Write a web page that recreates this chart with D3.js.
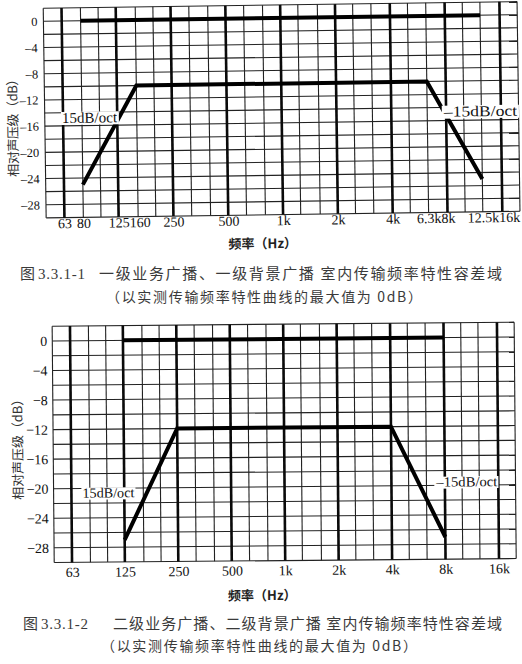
<!DOCTYPE html>
<html>
<head>
<meta charset="utf-8">
<script src="https://cdn.jsdelivr.net/npm/d3@7"></script>
<style>
  html, body { margin: 0; padding: 0; background: #fff; }
  svg { display: block; }
</style>
</head>
<body>
<svg id="fig" width="522" height="664"></svg>
<script>
// ---- grid definition ----
// one-third-octave band centres (Hz) used for the thin vertical rules
const bandFreqs = [50, 63, 80, 100, 125, 160, 200, 250, 315, 400, 500, 630, 800,
  1000, 1250, 1600, 2000, 2500, 3150, 4000, 5000, 6300, 8000, 10000, 12500, 16000, 20000];
// octave centres drawn as heavy rules
const octaveFreqs = [63, 125, 250, 500, 1000, 2000, 4000, 8000, 16000];
// horizontal rules every 2 dB
const dbGrid = [2, 0, -2, -4, -6, -8, -10, -12, -14, -16, -18, -20, -22, -24, -26, -28, -30];
const dbTicks = [0, -4, -8, -12, -16, -20, -24, -28];

// ---- Figure 3.3.1-1 ----
const freqTicks1 = [63, 80, 125, 160, 250, 500, 1000, 2000, 4000, 6300, 8000, 12500, 16000];
const freqLabels1 = ["63", "80", "125", "160", "250", "500", "1k", "2k", "4k", "6.3k", "8k", "12.5k", "16k"];
const upperFreq1 = [80, 12500];
const upperDb1 = [0, 0];
const lowerFreq1 = [80, 160, 6300, 12500];
const lowerDb1 = [-25, -10, -10, -25];
const slopeText1 = ["15dB/oct", "–15dB/oct"];
const caption1 = ["图", "3.3.1-1", "一级业务广播、一级背景广播 室内传输频率特性容差域", "（以实测传输频率特性曲线的最大值为 0dB）"];

// ---- Figure 3.3.1-2 ----
const freqTicks2 = [63, 125, 250, 500, 1000, 2000, 4000, 8000, 16000];
const freqLabels2 = ["63", "125", "250", "500", "1k", "2k", "4k", "8k", "16k"];
const upperFreq2 = [125, 8000];
const upperDb2 = [0, 0];
const lowerFreq2 = [125, 250, 4000, 8000];
const lowerDb2 = [-27, -12, -12, -27];
const slopeText2 = ["15dB/oct", "–15dB/oct"];
const caption2 = ["图", "3.3.1-2", "二级业务广播、二级背景广播 室内传输频率特性容差域", "（以实测传输频率特性曲线的最大值为 0dB）"];

const yTitle = "相对声压级（dB）";
const xTitle = "频率（Hz）";

const SERIF = "'Liberation Serif','Times New Roman',serif";
const CJK = "'Noto Sans CJK SC','Noto Sans',sans-serif";

const svg = d3.select("#fig");

function drawPanel(p) {
  const g = svg.append("g").attr("transform", `rotate(${p.tilt},${p.cx},${p.cy})`);
  const x = d3.scaleLog().domain([50, 20000]).range([p.left, p.right]);
  const y = d3.scaleLinear().domain([-30, 2]).range([p.bottom, p.top]);

  // horizontal rules
  g.append("g").selectAll("line").data(dbGrid).join("line")
    .attr("x1", p.left).attr("x2", p.right)
    .attr("y1", d => y(d)).attr("y2", d => y(d))
    .attr("stroke", "#222").attr("stroke-width", 1.1);

  // thin third-octave rules
  g.append("g").selectAll("line").data(bandFreqs.filter(f => !octaveFreqs.includes(f))).join("line")
    .attr("x1", d => x(d)).attr("x2", d => x(d))
    .attr("y1", p.top).attr("y2", p.bottom)
    .attr("stroke", "#222").attr("stroke-width", 1.1);

  // heavy octave rules
  g.append("g").selectAll("line").data(octaveFreqs).join("line")
    .attr("x1", d => x(d)).attr("x2", d => x(d))
    .attr("y1", p.top).attr("y2", p.bottom)
    .attr("stroke", "#0a0a0a").attr("stroke-width", 2.6);

  // tolerance limits
  const line = d3.line().x(d => x(d[0])).y(d => y(d[1]));
  const curves = [
    d3.zip(p.upperFreq, p.upperDb),
    d3.zip(p.lowerFreq, p.lowerDb)
  ];
  g.append("g").selectAll("path").data(curves).join("path")
    .attr("d", line)
    .attr("fill", "none").attr("stroke", "#000")
    .attr("stroke-width", 4).attr("stroke-linejoin", "miter");

  // slope annotations on a white ground
  p.slopes.forEach((s, i) => {
    const t = g.append("text")
      .attr("x", s.x).attr("y", s.y)
      .attr("font-family", SERIF).attr("font-size", s.size)
      .attr("fill", "#111")
      .attr("textLength", s.w).attr("lengthAdjust", "spacingAndGlyphs")
      .text(p.slopeText[i]);
    const bb = t.node().getBBox();
    g.insert("rect", () => t.node())
      .attr("x", bb.x - 1).attr("y", bb.y + 2)
      .attr("width", bb.width + 2).attr("height", bb.height - 3)
      .attr("fill", "#fff");
  });

  // y axis labels
  const ya = g.append("g").attr("transform", `translate(${p.left},0)`)
    .call(d3.axisLeft(y).tickValues(dbTicks).tickSize(0).tickPadding(p.yPad)
      .tickFormat(d => d === 0 ? "0" : p.yDash + Math.abs(d)));
  ya.select(".domain").remove();
  ya.selectAll("text").attr("font-family", SERIF).attr("font-size", p.yFont).attr("fill", "#111");

  // x axis labels; adjacent labels that would collide are pushed to abut
  const xa = g.append("g").attr("transform", `translate(0,${p.bottom})`)
    .call(d3.axisBottom(x).tickValues(p.freqTicks).tickSize(0).tickPadding(p.xPad)
      .tickFormat((d, i) => p.freqLabels[i]));
  xa.select(".domain").remove();
  const texts = xa.selectAll("text").attr("font-family", SERIF).attr("font-size", 14).attr("fill", "#111");
  let prevRight = -Infinity;
  texts.each(function (d) {
    const w = this.getComputedTextLength();
    let cx = 0;
    const left = x(d) - w / 2;
    if (left < prevRight) cx = prevRight - left;
    d3.select(this).attr("x", cx);
    prevRight = x(d) + cx + w / 2;
  });

  // axis titles
  g.append("text")
    .attr("transform", `translate(${p.yTitleX},${p.yTitleY}) rotate(-90)`)
    .attr("text-anchor", "middle").attr("dominant-baseline", "central")
    .attr("font-family", CJK).attr("font-size", 13).attr("fill", "#333")
    .attr("textLength", p.yTitleLen).attr("lengthAdjust", "spacing")
    .text(yTitle);
  g.append("text")
    .attr("x", 261).attr("y", p.xTitleY)
    .attr("text-anchor", "middle")
    .attr("font-family", CJK).attr("font-size", 13).attr("font-weight", "bold").attr("fill", "#222")
    .text(xTitle);

  // caption
  const cap = svg.append("g").attr("font-family", CJK).attr("fill", "#3a3a3a");
  cap.append("text").attr("x", p.capX).attr("y", p.capY).attr("font-size", 15).text(p.caption[0]);
  cap.append("text").attr("x", p.capX + 18).attr("y", p.capY).attr("font-size", 15)
    .attr("font-family", SERIF)
    .attr("textLength", 47).attr("lengthAdjust", "spacing").text(p.caption[1]);
  cap.append("text").attr("x", p.capMainX).attr("y", p.capY).attr("font-size", 15)
    .attr("textLength", 502 - p.capMainX).attr("lengthAdjust", "spacing").text(p.caption[2]);
  cap.append("text").attr("x", p.cap2X).attr("y", p.cap2Y).attr("font-size", 14)
    .attr("textLength", p.cap2W).attr("lengthAdjust", "spacing").text(p.caption[3]);
}

drawPanel({
  tilt: -0.8, cx: 280, cy: 115,
  left: 44.75, right: 518.6, top: 4.9, bottom: 214.6,
  upperFreq: upperFreq1, upperDb: upperDb1, lowerFreq: lowerFreq1, lowerDb: lowerDb1,
  freqTicks: freqTicks1, freqLabels: freqLabels1,
  slopeText: slopeText1,
  slopes: [{ x: 62, y: 120, size: 15, w: 55 }, { x: 444, y: 119, size: 15, w: 73 }],
  yPad: 6, xPad: 0.6, yFont: 12.5, yDash: "–",
  yTitleX: 12, yTitleY: 121, yTitleLen: 104, xTitleY: 248,
  caption: caption1, capX: 20, capY: 279, capMainX: 99,
  cap2X: 106, cap2Y: 302, cap2W: 316
});

drawPanel({
  tilt: -0.5, cx: 280, cy: 445,
  left: 53.2, right: 515.2, top: 324.2, bottom: 560.6,
  upperFreq: upperFreq2, upperDb: upperDb2, lowerFreq: lowerFreq2, lowerDb: lowerDb2,
  freqTicks: freqTicks2, freqLabels: freqLabels2,
  slopeText: slopeText2,
  slopes: [{ x: 82, y: 496, size: 14, w: 52 }, { x: 436, y: 488, size: 14, w: 61 }],
  yPad: 5, xPad: 4.7, yFont: 14, yDash: "−",
  yTitleX: 17, yTitleY: 444, yTitleLen: 107, xTitleY: 600,
  caption: caption2, capX: 23, capY: 629, capMainX: 113,
  cap2X: 101, cap2Y: 651, cap2W: 316
});
</script>
</body>
</html>
